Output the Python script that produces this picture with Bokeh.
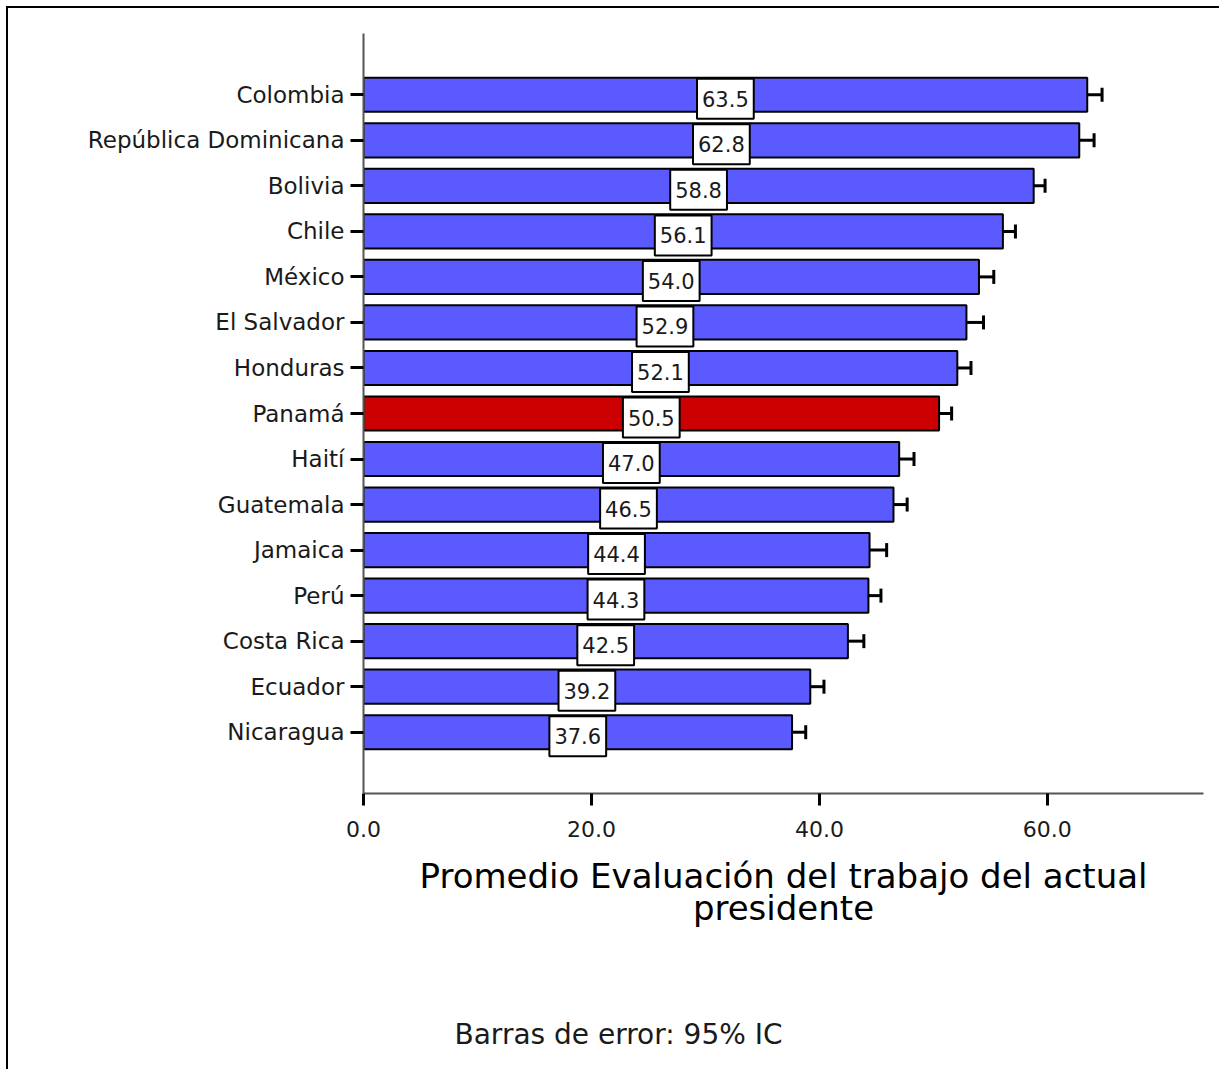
from bokeh.plotting import figure
from bokeh.models import (ColumnDataSource, FactorRange, Range1d, Whisker, TeeHead,
                          FixedTicker, NumeralTickFormatter, Title)
from bokeh.core.properties import value
from bokeh.embed import file_html
from bokeh.resources import INLINE

# ---------------- data ----------------
countries = ["Colombia", "República Dominicana", "Bolivia", "Chile", "México",
             "El Salvador", "Honduras", "Panamá", "Haití", "Guatemala",
             "Jamaica", "Perú", "Costa Rica", "Ecuador", "Nicaragua"]
means = [63.5, 62.8, 58.8, 56.1, 54.0, 52.9, 52.1, 50.5, 47.0, 46.5,
         44.4, 44.3, 42.5, 39.2, 37.6]
ci_low = [62.5, 61.6, 57.9, 55.2, 52.9, 51.7, 51.2, 49.7, 45.9, 45.5,
          43.1, 43.4, 41.4, 38.2, 36.5]
ci_high = [64.8, 64.1, 59.8, 57.2, 55.3, 54.4, 53.3, 51.6, 48.3, 47.7,
           45.9, 45.4, 43.9, 40.4, 38.8]
highlight = "Panamá"
x_ticks = [0, 20, 40, 60]
x_max = 73.7

axis_title = "Promedio Evaluación del trabajo del actual\npresidente"
note = "Barras de error: 95% IC"

BLUE = "#5a5aff"
RED = "#cc0000"
FONT = "DejaVu Sans"
TXT = "#1a1a1a"

src = ColumnDataSource(dict(
    country=countries,
    mean=means,
    mid=[m / 2 for m in means],
    label=[f"{m:.1f}" for m in means],
    lo=ci_low,
    hi=ci_high,
    color=[RED if c == highlight else BLUE for c in countries],
))

p = figure(
    y_range=FactorRange(factors=list(reversed(countries)), range_padding=0.1128),
    x_range=Range1d(0, x_max),
    frame_width=840, frame_height=760,
    min_border_left=355, min_border_right=16, min_border_top=25, min_border_bottom=278,
    output_backend="svg", toolbar_location=None,
)
p.styles = {"border-left": "2px solid black", "border-top": "2px solid black",
            "margin-left": "6px", "margin-top": "6px"}
p.outline_line_color = None
p.xgrid.visible = False
p.ygrid.visible = False

p.hbar(y="country", right="mean", left=0, height=0.75, source=src,
       fill_color="color", line_color="black", line_width=2)

p.add_layout(Whisker(source=src, base="country", lower="lo", upper="hi",
                     dimension="width", line_color="black", line_width=3,
                     lower_head=TeeHead(size=14, line_width=3, line_color="black"),
                     upper_head=TeeHead(size=14, line_width=3, line_color="black")))

p.text(x="mid", y="country", text="label", source=src,
       text_align="center", text_baseline="middle",
       text_font=value(FONT), text_font_size="21px", text_color=TXT,
       y_offset=4,
       background_fill_color="white", border_line_color="black", border_line_width=2,
       padding=dict(left=5, right=5, top=12, bottom=12))

# x axis
xa = p.xaxis[0]
xa.ticker = FixedTicker(ticks=x_ticks)
xa.formatter = NumeralTickFormatter(format="0.0")
xa.major_tick_in = 0
xa.major_tick_out = 12
xa.major_tick_line_width = 3
xa.major_tick_line_color = "black"
xa.minor_tick_line_color = None
xa.axis_line_color = "#555555"
xa.axis_line_width = 2
xa.major_label_text_font = FONT
xa.major_label_text_font_size = "22px"
xa.major_label_text_color = TXT
xa.major_label_standoff = 15
xa.axis_label = axis_title
xa.axis_label_text_font = FONT
xa.axis_label_text_font_size = "34px"
xa.axis_label_text_font_style = "normal"
xa.axis_label_text_color = "black"
xa.axis_label_text_line_height = 0.8
xa.axis_label_standoff = 16

# y axis
ya = p.yaxis[0]
ya.major_tick_in = 0
ya.major_tick_out = 13
ya.major_tick_line_width = 3
ya.major_tick_line_color = "black"
ya.axis_line_color = "#555555"
ya.axis_line_width = 2
ya.major_label_text_font = FONT
ya.major_label_text_font_size = "23px"
ya.major_label_text_color = TXT
ya.major_label_standoff = 6

p.add_layout(Title(text=note, align="left", offset=91, standoff=170,
                   text_font=FONT, text_font_size="28px", text_font_style="normal",
                   text_color=TXT), "below")

open("out.html", "w").write(file_html(p, INLINE))
